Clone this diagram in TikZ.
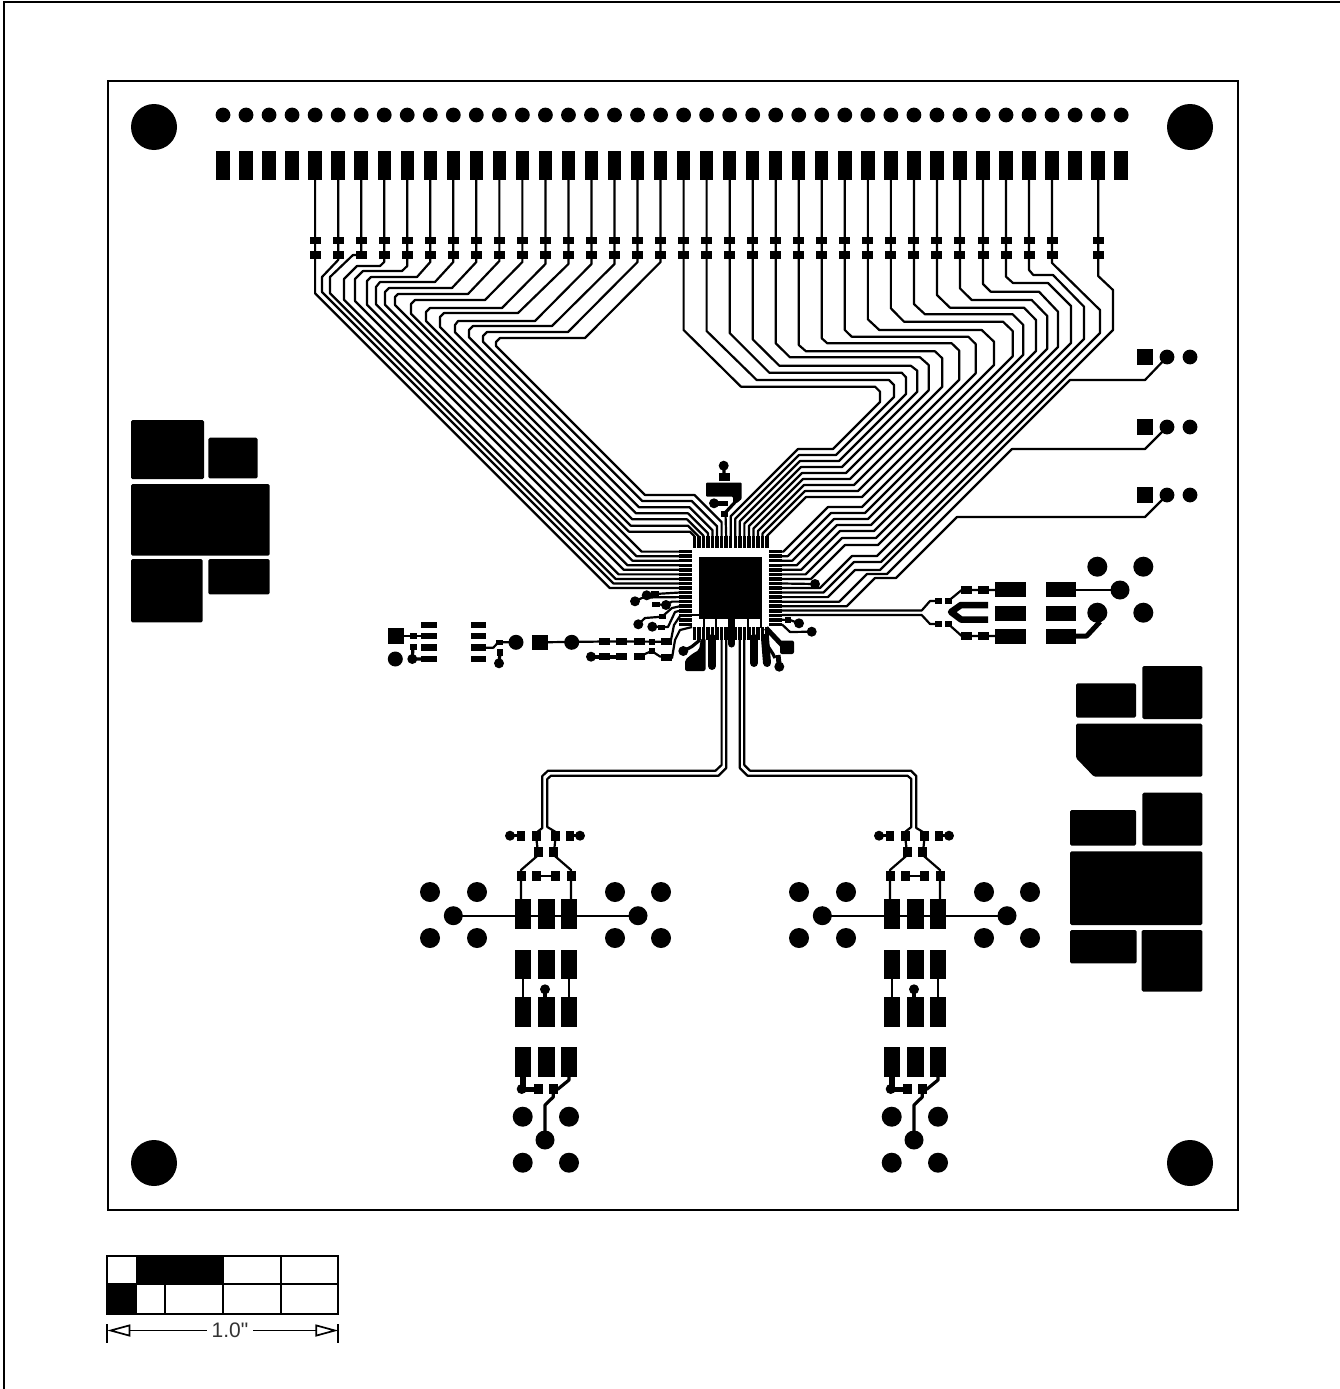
\documentclass[tikz,border=0pt]{standalone}
\usepackage{fontspec}
\usetikzlibrary{arrows.meta}
\newfontfamily\dimfont{Liberation Sans}
\newcommand\viahole[3]{\fill (#1,#2) circle (#3pt);}
\newcommand\smdpad[4]{\fill ({#1-#3/2},{#2-#4/2}) rectangle ++(#3,#4);}
\tikzset{
  trace/.style={line width=2.2pt,line join=round},
  widetrace/.style={line width=3.2pt,line join=round},
  stub/.style={line width=8pt,line cap=round},
  plane/.style={fill=black,rounded corners=1.5pt},
  outline/.style={line width=2pt},
  scalegrid/.style={line width=1.9pt},
  dimline/.style={line width=1.7pt,{Triangle[open,length=23pt,width=12pt]}-},
}
\begin{document}
\begin{tikzpicture}[x=1pt,y=-1pt]
  \useasboundingbox (0,0) rectangle (1340,1389);

  % frame and board
  \draw[outline] (1350,2) -- (4,2) -- (4,1400);
  \draw[outline] (107.5,81) rectangle (1237.5,1210);
  \foreach \hx in {154,1190} \foreach \hy in {127,1163} \viahole{\hx}{\hy}{23};

  % edge connector
  \foreach \i in {0,...,39} {
    \pgfmathsetmacro\px{223+23.03*\i}
    \viahole{\px}{115}{7.4}
    \smdpad{\px}{165.5}{13.4}{29.5}
  }
  \foreach \i in {4,...,36,38} {
    \pgfmathsetmacro\px{223+23.03*\i}
    \smdpad{\px}{240.6}{11}{7.6}
    \smdpad{\px}{255.2}{11}{7.6}
  }

  % traces to west pins
  \foreach \i/\ya/\xa/\yb/\xb/\xc/\yc/\off/\pin in {
    4/260/315.1/270/315.1/315.1/280/21.7/8,
    5/260/322/277/322/322/277/30/7,
    6/255/353/255/353/330/277/36.7/6,
    7/262/380/266/357/344/279/44.3/5,
    8/266/402/271/363/355/279/54/4,
    9/262/417/277/371/367/281/62.3/3,
    10/262/435/282/380/376/287/71.7/2,
    11/262/452/288/389/385/292/80.3/1,
    12/261/468/294/398/395/297/90/0} {
    \pgfmathsetmacro\px{223+23.03*\i}
    \pgfmathsetmacro\ry{551.6+4.55*\pin}
    \draw[trace] (\px,180) -- (\px,\ya) -- (\xa,\yb) -- (\xb,\yb) -- (\xc,\yc)
      -- (\xc,{\xc-\off}) -- ({\off+\ry},\ry) -- (680,\ry);
  }
  % traces to north pins, left part
  \foreach \i/\ya/\xa/\yb/\xb/\xc/\yc/\off/\ry/\xs/\pin in {
    13/262/485/300/415/411/304/97.3/531.7/690/0,
    14/264/502/308/430/426/312/105/525.7/688/1,
    15/264/518/313/444/440/317/113/519.3/687/2,
    16/264/535/321/458/455/325/122.7/513.3/688/3,
    17/264/552/326/473/469/330/131.7/507.2/689.5/4,
    18/262/568/332/487/483/336/141.3/501/691.7/5,
    19/262/585/338/500/496/342/150/495/694.5/6} {
    \pgfmathsetmacro\px{223+23.03*\i}
    \pgfmathsetmacro\qx{694.3+4.55*\pin}
    \draw[trace] (\px,180) -- (\px,\ya) -- (\xa,\yb) -- (\xb,\yb) -- (\xc,\yc)
      -- (\xc,{\xc-\off}) -- ({\off+\ry},\ry) -- (\xs,\ry)
      -- (\qx,{\ry+\qx-\xs}) -- (\qx,537);
  }
  % traces to north pins, right part
  \foreach \i/\ya/\xa/\yb/\xb/\xc/\yc/\sm in {
    20/330/741/386.7/875/880/391.7/1282,
    21/331/756.7/380/889/894/385/1291,
    22/333/769.3/372.7/901.7/906/377.3/1300,
    23/339.3/779.3/365.7/910.7/917.3/370.7/1309,
    24/343.3/790/357.3/920/928.7/365/1319,
    25/345/806/351.3/935/942.3/358.3/1329,
    26/338.3/827.3/343.3/951.7/959.3/350.7/1339,
    27/330/851.7/336.7/968.3/975.7/344/1349,
    28/319.3/879.3/330/981.7/994/341.7/1359} {
    \pgfmathsetmacro\px{223+23.03*\i}
    \pgfmathsetmacro\qx{694.3+4.55*(\i-12)}
    \pgfmathsetmacro\lo{1247+7*(\i-20)}
    \pgfmathsetmacro\yr{449+6*(\i-20)}
    \draw[trace] (\px,180) -- (\px,\ya) -- (\xa,\yb) -- (\xb,\yb) -- (\xc,\yc)
      -- (\xc,{\sm-\xc}) -- ({\sm-\yr},\yr) -- ({\lo-\yr},\yr)
      -- (\qx,{\lo-\qx}) -- (\qx,537);
  }
  % traces to east pins
  \foreach \i/\ya/\xa/\yb/\xb/\xc/\yc/\sm/\yr/\lo/\pin in {
    29/308.3/904/321.7/1003/1012.7/331/1369/507/1335/0,
    30/304/925/314.3/1012.7/1023.3/325/1378/513/1344/1,
    31/295/950/307.7/1024/1036/320/1387/519/1353/2,
    32/288.3/971.7/300/1031.7/1047.3/316/1396/525/1362/3,
    33/284/990.7/291.7/1039/1058/311.7/1405/531/1371/4,
    34/276.7/1013/283/1048/1071/306/1414/538/1380/5,
    35/270/1033.3/275/1053/1084/306.7/1423/545/1390/6,
    36/263/1100/310/1100/1100/310/1433/556/1408/8,
    38/276/1113/290/1113/1113/290/1443/562/1416/9} {
    \pgfmathsetmacro\px{223+23.03*\i}
    \pgfmathsetmacro\ry{551.6+4.55*\pin}
    \draw[trace] (\px,180) -- (\px,\ya) -- (\xa,\yb) -- (\xb,\yb) -- (\xc,\yc)
      -- (\xc,{\sm-\xc}) -- ({\sm-\yr},\yr) -- ({\lo-\yr},\yr)
      -- ({\lo-\ry},\ry) -- (782,\ry);
  }
  % three pin headers
  \foreach \hy/\ht/\sm/\yr/\lo/\pin in {
    357/380/1450/570/1425/10,
    427/449/1461/574/1441/11,
    495/517/1474/578/1453/12} {
    \pgfmathsetmacro\ry{551.6+4.55*\pin}
    \smdpad{1145}{\hy}{16}{16}
    \viahole{1167}{\hy}{7.4}
    \viahole{1190}{\hy}{7.4}
    \draw[trace] (1167,\hy) -- (1145,\ht) -- ({\sm-\ht},\ht) -- ({\sm-\yr},\yr)
      -- ({\lo-\yr},\yr) -- ({\lo-\ry},\ry) -- (782,\ry);
  }

  % chip
  \fill (698.7,556.7) rectangle (762.3,618.5);
  \foreach \k in {0,...,16} {
    \pgfmathsetmacro\qx{694.3+4.55*\k}
    \pgfmathsetmacro\qy{551.6+4.55*\k}
    \smdpad{\qx}{542}{3.5}{12.5}
    \smdpad{\qx}{633.3}{3.5}{12.5}
    \smdpad{685.5}{\qy}{13.5}{3.5}
    \smdpad{775.5}{\qy}{13.5}{3.5}
  }
  \foreach \tx in {704.3,716,748.3,761} \draw[trace] (\tx,618) -- (\tx,628);
  \draw[trace] (692,615.3) -- (699,615.3);

  % above the chip
  \viahole{723.7}{465.7}{5}
  \draw[widetrace] (723.7,465.7) -- (724.3,477);
  \smdpad{724.3}{477}{10.5}{8.5}
  \fill[rounded corners=1pt] (706,482.7) -- (741.7,482.7) -- (741.7,499) -- (737,503)
    -- (733,503) -- (733,496.7) -- (706,496.7) -- cycle;
  \draw[widetrace] (737,500) -- (725,513);
  \viahole{714}{503.3}{5}
  \draw[line width=5pt] (714,503.3) -- (728,503.3);
  \smdpad{724.5}{514}{7}{6.5}
  \draw[trace] (725.5,514) -- (726.2,537);

  % west side fan-out
  \viahole{646.7}{595.3}{5}
  \smdpad{655}{594}{7.5}{5.5}
  \draw[trace] (646.7,595.3) -- (655,594) -- (680,592.5);
  \viahole{635}{601.3}{5}
  \draw[trace] (635,601.3) -- (643,597.5) -- (680,597.1);
  \smdpad{656}{604.3}{7.5}{5.5}
  \viahole{666}{605}{5}
  \draw[trace] (656,604.3) -- (666,605) -- (672,601.6) -- (680,601.6);
  \viahole{638.3}{624.3}{5}
  \smdpad{662.3}{616.7}{7.5}{5.5}
  \draw[trace] (638.3,624.3) -- (645,618) -- (662,616.7) -- (672,608) -- (680,606.2);
  \viahole{652.3}{626.7}{5}
  \smdpad{661.7}{627.7}{7.5}{5.5}
  \draw[trace] (652.3,626.7) -- (668,627) -- (675,612) -- (680,610.7);
  \smdpad{666.7}{641.7}{11}{7.5}
  \draw[trace] (666.7,641.7) -- (671,640) -- (674,625) -- (680,616);
  \smdpad{666.7}{657.3}{11}{7.5}
  \draw[trace] (666.7,657.3) -- (672,658) -- (675,640) -- (680,630) -- (692,627);

  % below the chip
  \viahole{683.3}{651}{5}
  \draw[widetrace] (683.3,651) -- (691.7,646.7) -- (700,640);
  \fill[rounded corners=2pt] (685,671) -- (685,660) -- (692,654) -- (699,650) -- (701,638)
    -- (705.5,638) -- (705.5,671) -- cycle;
  \draw[stub] (712,638) -- (712,666);
  \draw[line width=7pt,line cap=round] (731.7,618) -- (731.7,644);
  \draw[stub] (754,638) -- (754,663);
  \draw[stub] (765,638) -- (767,663);
  \draw[widetrace] (762.7,638) -- (773,654) -- (775,658);
  \viahole{779.3}{666.7}{5}
  \draw[line width=5pt] (778,655) -- (779.3,666);
  \draw[line width=5pt] (766,628) -- (782,645);
  \fill[rounded corners=2pt] (780,640.5) rectangle (794,654);

  % east side vias
  \draw[trace] (782,583.5) -- (815,584);
  \viahole{815}{584}{5}
  \smdpad{788}{620}{5.5}{5.5}
  \viahole{799}{623.3}{5}
  \draw[trace] (782,619.8) -- (790,620) -- (799,623.3);
  \viahole{811.7}{631.7}{5}
  \draw[trace] (782,624.4) -- (790,632) -- (811.7,631.7);

  % left connector strips
  \smdpad{396}{636}{15.5}{15.5}
  \viahole{395.3}{659}{7.5}
  \foreach \ry in {625,636,647.7,659} {
    \smdpad{429.2}{\ry}{15.5}{6.5}
    \smdpad{478.6}{\ry}{15.5}{6.5}
  }
  \draw[trace] (396,636) -- (430,636);
  \smdpad{413.3}{636}{7.5}{6.5}
  \smdpad{413.3}{647}{6.5}{6.5}
  \viahole{412.3}{659}{5}
  \draw[widetrace] (413,647) -- (412.3,659) -- (430,659);
  \draw[trace] (486,647.7) -- (493.3,647.7) -- (498.3,642.3) -- (516,642.3);
  \smdpad{499.3}{642.3}{6.5}{5.5}
  \smdpad{500}{652.7}{6.5}{6.5}
  \viahole{499}{663.3}{5}
  \draw[widetrace] (500,652.7) -- (499,663.3);
  \viahole{516}{642.3}{7.5}
  \smdpad{540}{642.3}{15.5}{15.5}
  \viahole{571.7}{642.3}{7.5}
  \draw[trace] (540,642.3) -- (605,641.5) -- (666.7,641.7);
  \foreach \cx in {604,621.7,639.3} {
    \smdpad{\cx}{641.5}{11}{7.5}
    \smdpad{\cx}{656.5}{11}{7.5}
  }
  \smdpad{651.7}{641.7}{6}{6}
  \viahole{591}{656.7}{5}
  \draw[line width=4pt] (591,656.7) -- (622,656.7);
  \smdpad{651.7}{651}{6}{6}
  \draw[trace] (639.3,656.5) -- (651.7,651) -- (660,656.5) -- (666.7,657.3);

  % east output
  \draw[trace] (782,610.5) -- (921.7,610.5) -- (930,601) -- (938.3,601);
  \draw[trace] (782,615) -- (921.7,615) -- (930,624) -- (938.3,624);
  \foreach \ry in {601,624} {
    \smdpad{938.3}{\ry}{7}{6}
    \smdpad{948.3}{\ry}{7}{6}
  }
  \draw[line width=6.5pt,line join=round] (988,605) -- (961,605) -- (951,612) -- (961,619.5) -- (988,619.5);
  \draw[trace] (948.3,601) -- (961.7,590) -- (1010,590);
  \draw[trace] (948.3,624) -- (961.7,636) -- (1010,636);
  \foreach \cx in {966,983.3} \foreach \ry in {590,636} \smdpad{\cx}{\ry}{11}{7.5};
  \foreach \ry in {589.8,613.2,636.2} {
    \smdpad{1010.4}{\ry}{30.6}{15}
    \smdpad{1061}{\ry}{30}{15}
  }
  \draw[trace] (1076,590) -- (1120,590);
  \draw[line width=5pt,line join=round] (1076,636) -- (1086.7,636) -- (1100,621.7);
  \foreach \cx/\cy in {1097.3/566.7,1143.3/566.7,1097.3/612.7,1143.3/612.7} \viahole{\cx}{\cy}{10};
  \viahole{1120}{590}{9.5}

  % copper planes
  \foreach \xa/\ya/\xb/\yb in {
    131/420/204/479, 208.3/437.7/257.7/478.3, 131/484/269.7/555.7,
    131/559/202.7/622.3, 208.3/559/269.7/594.3,
    1076/683.3/1136/717.7, 1142.3/666/1202.3/719,
    1070/810/1136/845.7, 1142.3/792.7/1202.3/845.7, 1070/851.3/1202.3/925,
    1070/930/1136.7/963.3, 1141.7/930/1202.3/991.7}
    \fill[plane] (\xa,\ya) rectangle (\xb,\yb);
  \fill[plane] (1076,723.7) -- (1202.3,723.7) -- (1202.3,776.7) -- (1094,776.7) -- (1076,758) -- cycle;

  % double traces to the two bottom groups
  \draw[trace] (721.6,639) -- (721.6,765) -- (715.5,770.7) -- (548,770.7) -- (542.3,776) -- (542.3,828) -- (536,833);
  \draw[trace] (726.2,639) -- (726.2,768) -- (718.5,775.7) -- (551,775.7) -- (547.3,779) -- (547.3,827) -- (555.7,832);
  \draw[trace] (739.8,639) -- (739.8,768) -- (747.5,775.7) -- (907.5,775.7) -- (911.3,779) -- (911.3,827) -- (905,832);
  \draw[trace] (744.3,639) -- (744.3,765) -- (750,770.7) -- (911,770.7) -- (916.3,776) -- (916.3,828) -- (924.7,833);

  % bottom groups
  \foreach \dx in {0,369} {
    \begin{scope}[xshift=\dx pt]
      \foreach \cx/\cy in {430/892,477/892,430/938,477/938,615/892,661/892,615/938,661/938,
        522.7/1116.7,569/1116.7,522.7/1162.7,569/1162.7} \viahole{\cx}{\cy}{10};
      \foreach \cx/\cy in {453.3/915.7,638/915.7,545/1140} \viahole{\cx}{\cy}{9.5};
      \draw[trace] (453.3,915.7) -- (638,915.7);
      \foreach \cx in {523,546.3,569} \foreach \cy in {913.8,964.7,1012,1062} \smdpad{\cx}{\cy}{16.4}{29.5};
      \foreach \cx/\cy/\pw in {521/875.7/9,571/875.7/9,536/875.7/9,555.7/875.7/9,
        538.3/852.3/9,553.7/852.3/9,536/835.7/9,555.7/835.7/9,521/835.7/8,570/835.7/8,
        538.3/1089/9,553.3/1089/9} \smdpad{\cx}{\cy}{\pw}{10};
      \draw[trace] (521,900) -- (521,870) -- (538.3,855) -- (536,835.7);
      \draw[trace] (571,900) -- (571,870) -- (553.7,855) -- (555.7,835.7);
      \draw[trace] (536,875.7) -- (555.7,875.7);
      \viahole{510}{835.7}{5}
      \viahole{580}{835.7}{5}
      \draw[widetrace] (510,835.7) -- (521,835.7);
      \draw[widetrace] (570,835.7) -- (580,835.7);
      \draw[trace] (522.7,979) -- (522.7,998);
      \draw[trace] (569,979) -- (569,998);
      \viahole{545}{989.3}{5}
      \draw[widetrace] (545,989.3) -- (545,998);
      \draw[line width=6pt] (522.7,1076) -- (522.7,1089);
      \viahole{521.7}{1089}{5}
      \draw[line width=5pt] (521.7,1089) -- (538.3,1089);
      \draw[widetrace] (569,1076) -- (569,1080) -- (558,1089) -- (553.3,1089);
      \draw[widetrace] (553.3,1089) -- (553.3,1097) -- (545,1105) -- (545,1140);
    \end{scope}
  }

  % scale bar
  \fill (136,1255.7) rectangle (224,1284);
  \fill (107.3,1284) rectangle (137.3,1314);
  \draw[scalegrid] (107.3,1255.7) rectangle (338.3,1314);
  \draw[scalegrid] (107.3,1284) -- (338.3,1284);
  \draw[scalegrid] (280.7,1255.7) -- (280.7,1314);
  \draw[scalegrid] (223.3,1255.7) -- (223.3,1314);
  \draw[scalegrid] (165,1284) -- (165,1314);
  \draw[scalegrid] (107.3,1324) -- (107.3,1343);
  \draw[scalegrid] (338.3,1324) -- (338.3,1343);
  \coordinate (dimleft) at (107.3,1330.5);
  \coordinate (dimright) at (338.3,1330.5);
  \node[inner sep=4pt,text=black!80] (dimtext) at (230,1330.5) {\dimfont\fontsize{21}{21}\selectfont 1.0"};
  \draw[dimline] (dimleft) -- (dimtext);
  \draw[dimline] (dimright) -- (dimtext);
\end{tikzpicture}
\end{document}
